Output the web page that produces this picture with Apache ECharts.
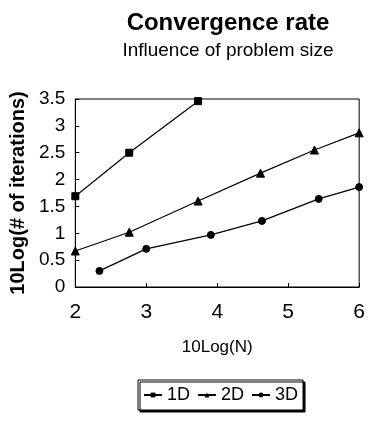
<!DOCTYPE html>
<html><head><meta charset="utf-8">
<script src="https://cdn.jsdelivr.net/npm/echarts@6/dist/echarts.min.js"></script>
<style>html,body{margin:0;padding:0;background:#fff}#c{width:368px;height:422px}</style>
</head><body><div id="c"></div>
<script>
var xTicks = [2, 3, 4, 5, 6];
var yTicks = [0, 0.5, 1, 1.5, 2, 2.5, 3, 3.5];
var seriesNames = ['1D', '2D', '3D'];
var x1D = [2.0, 2.76, 3.73];
var y1D = [1.69, 2.50, 3.46];
var x2D = [2.0, 2.76, 3.73, 4.61, 5.37, 6.0];
var y2D = [0.67, 1.02, 1.60, 2.12, 2.55, 2.87];
var x3D = [2.34, 3.0, 3.91, 4.63, 5.43, 6.0];
var y3D = [0.30, 0.71, 0.97, 1.23, 1.64, 1.86];

function pairs(xs, ys){ return xs.map(function(x,i){return [x, ys[i]];}); }
var FONT = '"Liberation Sans", Arial, sans-serif';
var chart = echarts.init(document.getElementById('c'), null, {renderer:'canvas'});
var markers = ['rect', 'triangle', 'circle'];
var sizes = [7, 8, 7];
var data = [pairs(x1D,y1D), pairs(x2D,y2D), pairs(x3D,y3D)];
chart.setOption({
  animation:false,
  backgroundColor:'#fff',
  title:{
    text:'Convergence rate', subtext:'Influence of problem size',
    left:223, top:6, textAlign:'center', itemGap:6,
    textStyle:{fontFamily:FONT, fontSize:24, fontWeight:'bold', color:'#000'},
    subtextStyle:{fontFamily:FONT, fontSize:19, color:'#000'}
  },
  grid:{left:72, right:3, top:99, bottom:135, show:true, borderColor:'#000', borderWidth:1},
  xAxis:{
    type:'value', min:2, max:6, interval:1,
    name:'10Log(N)', nameLocation:'middle', nameGap:52,
    nameTextStyle:{fontFamily:FONT, fontSize:17, color:'#000'},
    axisLine:{show:true, lineStyle:{color:'#000', width:1}},
    axisTick:{show:true, inside:true, length:4, lineStyle:{color:'#000'}},
    axisLabel:{fontFamily:FONT, fontSize:21, color:'#000', margin:15},
    splitLine:{show:false}
  },
  yAxis:{
    type:'value', min:0, max:3.5, interval:0.5,
    name:'10Log(# of iterations)', nameLocation:'middle', nameGap:46, nameRotate:90,
    nameTextStyle:{fontFamily:FONT, fontSize:20, fontWeight:'bold', color:'#000'},
    axisLine:{show:true, lineStyle:{color:'#000', width:1}},
    axisTick:{show:true, inside:true, length:4, lineStyle:{color:'#000'}},
    axisLabel:{fontFamily:FONT, fontSize:19, color:'#000', margin:10},
    splitLine:{show:false}
  },
  legend:{
    data:seriesNames, left:138, top:380, width:170,
    itemWidth:18, itemHeight:6, itemGap:7,
    padding:[6,5,6,5],
    backgroundColor:'#fff', borderColor:'#000', borderWidth:1,
    shadowColor:'#000', shadowBlur:0, shadowOffsetX:2, shadowOffsetY:2,
    textStyle:{fontFamily:FONT, fontSize:18, color:'#000'}
  },
  series: seriesNames.map(function(n,i){
    return {
      name:n, type:'line', data:data[i],
      symbol:markers[i], symbolSize:sizes[i], showSymbol:true,
      lineStyle:{color:'#000', width:1.2},
      itemStyle:{color:'#000', borderColor:'#000'}
    };
  })
});
</script>
</body></html>
